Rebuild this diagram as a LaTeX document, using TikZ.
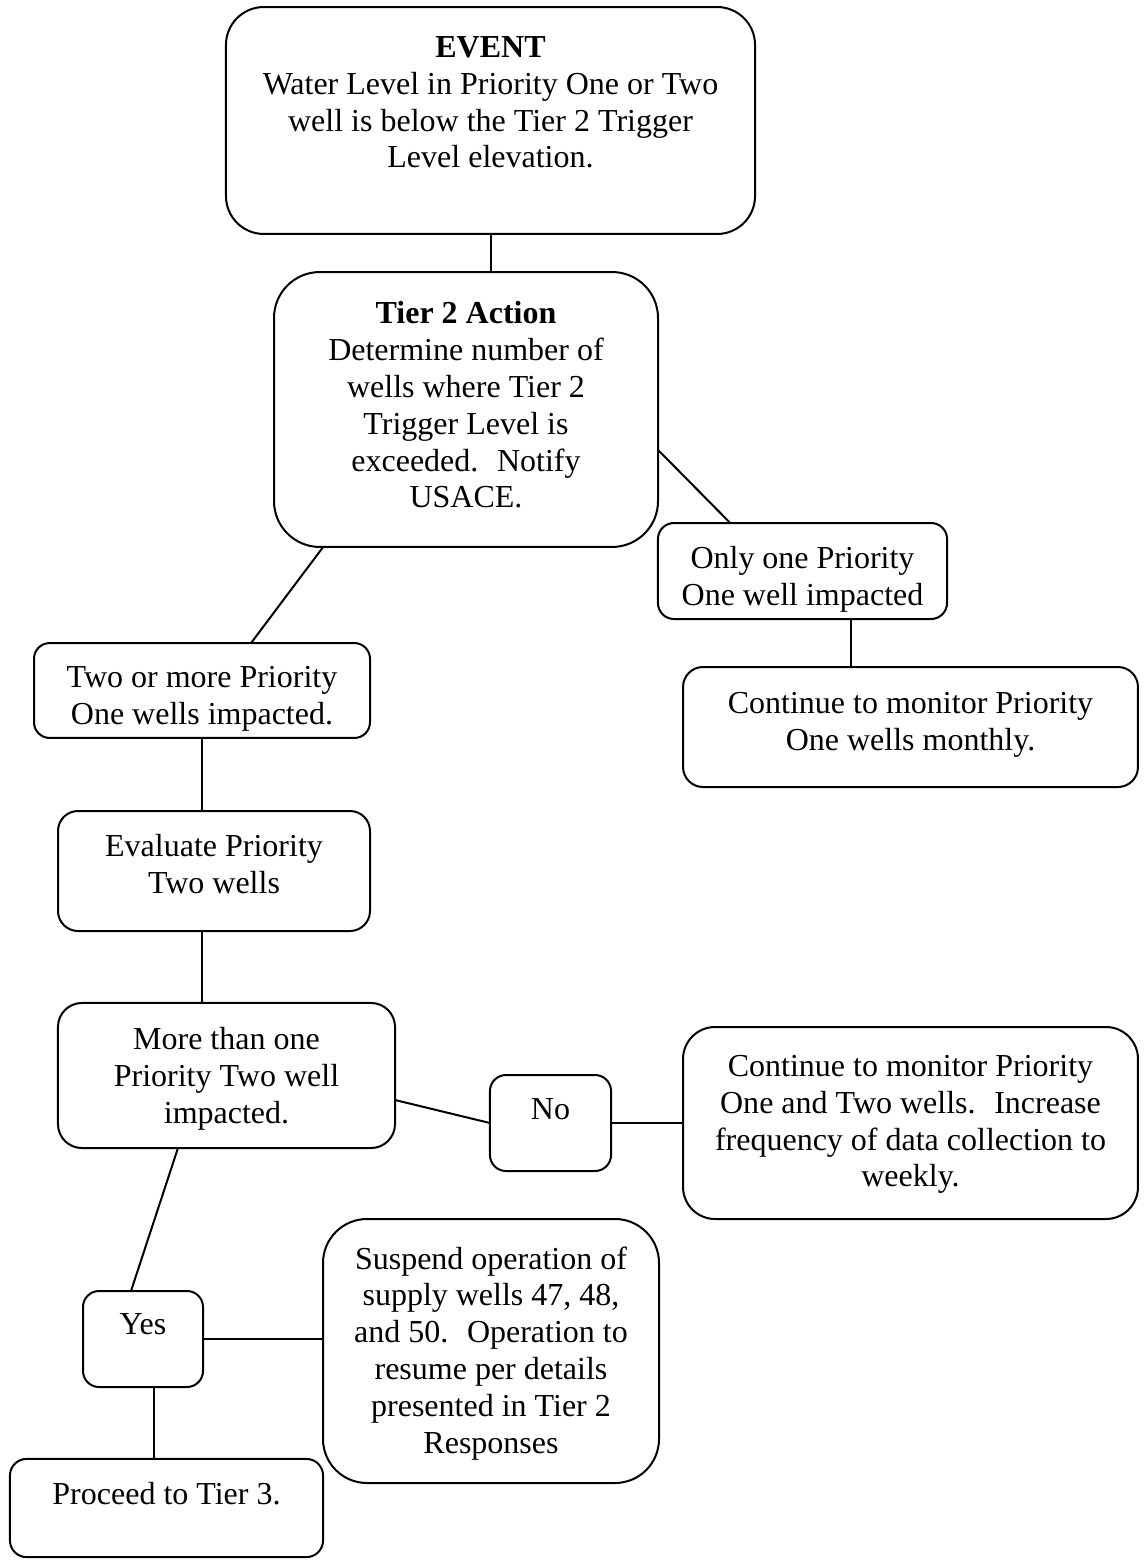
\documentclass[tikz,border=0pt]{standalone}
\usepackage{fontspec}
\setmainfont{Liberation Serif}
\usetikzlibrary{positioning,calc}

\tikzset{
  flowbox/.style={draw, line width=.75pt, inner sep=0pt, outer sep=0pt},
  boxtext/.style={align=center, inner sep=0pt, font=\fontsize{12}{13.8}\selectfont, execute at begin node=\strut},
  link/.style={line width=.75pt},
}

\begin{document}
\begin{tikzpicture}[x=.375pt, y=-.375pt]
    \useasboundingbox (0,0) rectangle (1145,1562);

        \node[flowbox, rounded corners=14.2pt, minimum width=198.4pt, minimum height=85.1pt] (event) at (490.5,120.5) {};
        \node[boxtext, below=10.9pt of event.north] (event-txt) {{\bfseries EVENT}\\Water Level in Priority One or Two\\well is below the Tier 2 Trigger\\Level elevation.};

        \node[flowbox, rounded corners=17.2pt, minimum width=144pt, minimum height=103.1pt] (tier) at (466,409.5) {};
        \node[boxtext, below=10.9pt of tier.north] (tier-txt) {{\bfseries Tier 2 Action}\\Determine number of\\wells where Tier 2\\Trigger Level is\\exceeded.~ Notify\\USACE.};

        \node[flowbox, rounded corners=6pt, minimum width=108.4pt, minimum height=36pt] (onlyone) at (802.5,571) {};
        \node[boxtext, below=8.6pt of onlyone.north] (onlyone-txt) {Only one Priority\\One well impacted};

        \node[flowbox, rounded corners=7.5pt, minimum width=170.6pt, minimum height=45pt] (monthly) at (910.5,727) {};
        \node[boxtext, below=9.3pt of monthly.north] (monthly-txt) {Continue to monitor Priority\\One wells monthly.};

        \node[flowbox, rounded corners=5.9pt, minimum width=126pt, minimum height=35.6pt] (twoplus) at (202,690.5) {};
        \node[boxtext, below=8.6pt of twoplus.north] (twoplus-txt) {Two or more Priority\\One wells impacted.};

        \node[flowbox, rounded corners=7.5pt, minimum width=117pt, minimum height=45pt] (evalp2) at (214,871) {};
        \node[boxtext, below=8.6pt of evalp2.north] (evalp2-txt) {Evaluate Priority\\Two wells};

        \node[flowbox, rounded corners=9pt, minimum width=126.4pt, minimum height=54.4pt] (morethan) at (226.5,1075.5) {};
        \node[boxtext, below=9pt of morethan.north] (morethan-txt) {More than one\\Priority Two well\\impacted.};

        \node[flowbox, rounded corners=6pt, minimum width=45.4pt, minimum height=36pt] (no) at (550.5,1123) {};
        \node[boxtext, below=6.8pt of no.north] (no-txt) {No};

        \node[flowbox, rounded corners=12pt, minimum width=170.6pt, minimum height=72pt] (weekly) at (910.5,1123) {};
        \node[boxtext, below=10.4pt of weekly.north] (weekly-txt) {Continue to monitor Priority\\One and Two wells.~ Increase\\frequency of data collection to\\weekly.};

        \node[flowbox, rounded corners=6pt, minimum width=45pt, minimum height=36pt] (yes) at (143,1339) {};
        \node[boxtext, below=6.4pt of yes.north] (yes-txt) {Yes};

        \node[flowbox, rounded corners=16.5pt, minimum width=126pt, minimum height=99pt] (suspend) at (491,1351) {};
        \node[boxtext, below=10.1pt of suspend.north] (suspend-txt) {Suspend operation of\\supply wells 47, 48,\\and 50.~ Operation to\\resume per details\\presented in Tier 2\\Responses};

        \node[flowbox, rounded corners=6.2pt, minimum width=117.4pt, minimum height=36.8pt] (proceed) at (166.5,1508) {};
        \node[boxtext, below=7.1pt of proceed.north] (proceed-txt) {Proceed to Tier 3.};

        \draw[link] (event.south) -- (event.south |- tier.north);
        \draw[link] ($(tier.north east)!.647!(tier.south east)$) -- ($(onlyone.north west)!.25!(onlyone.north east)$);
        \draw[link] ($(onlyone.south west)!.667!(onlyone.south east)$) coordinate (p1) -- (p1 |- monthly.north);
        \draw[link] ($(tier.south west)!.128!(tier.south east)$) -- ($(twoplus.north west)!.646!(twoplus.north east)$);
        \draw[link] (twoplus.south) -- (twoplus.south |- evalp2.north);
        \draw[link] (twoplus.south |- evalp2.south) -- (twoplus.south |- morethan.north);
        \draw[link] ($(morethan.north east)!.669!(morethan.south east)$) -- (no.west);
        \draw[link] (no.east) -- (weekly.west);
        \draw[link] ($(morethan.south west)!.356!(morethan.south east)$) -- ($(yes.north west)!.4!(yes.north east)$);
        \draw[link] (yes.east) -- (yes.east -| suspend.west);
        \draw[link] ($(yes.south west)!.59!(yes.south east)$) coordinate (p2) -- (p2 |- proceed.north);

\end{tikzpicture}
\end{document}
